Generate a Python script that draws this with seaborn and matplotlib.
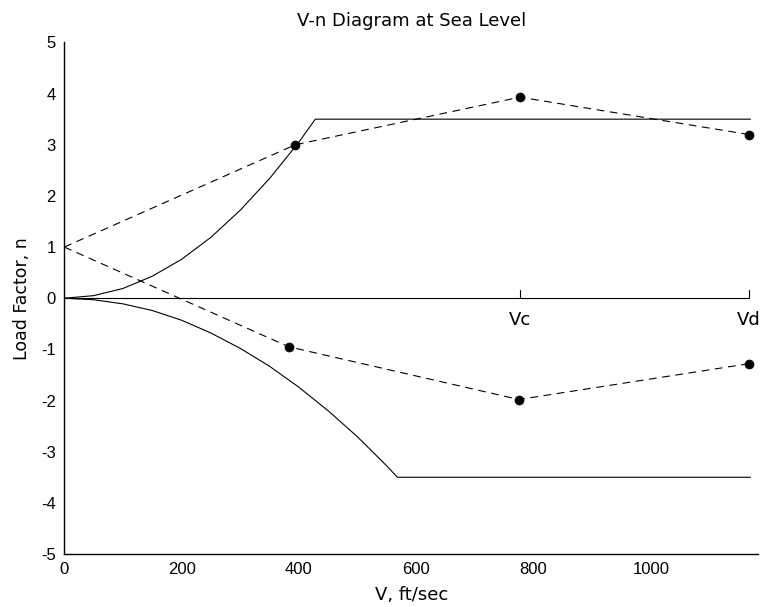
import matplotlib
matplotlib.use("Agg")
import matplotlib.pyplot as plt
import seaborn as sns
import pandas as pd

# Positive stall boundary (n vs V), then flat limit load
v_pos = [0, 50, 100, 150, 200, 250, 300, 350, 400, 428, 1170]
n_pos = [0, 0.05, 0.19, 0.43, 0.76, 1.19, 1.72, 2.34, 3.05, 3.5, 3.5]

# Negative stall boundary, then flat negative limit load
v_neg = [0, 50, 100, 150, 200, 250, 300, 350, 400, 450, 500, 550, 568, 1170]
n_neg = [0, -0.03, -0.11, -0.24, -0.43, -0.68, -0.98, -1.33, -1.74, -2.20,
         -2.71, -3.28, -3.5, -3.5]

# Gust lines
v_gust_up = [0, 394, 777, 1167]
n_gust_up = [1, 3.0, 3.93, 3.2]
v_gust_dn = [0, 383, 775, 1167]
n_gust_dn = [1, -0.95, -1.98, -1.28]

# Design speeds
speed_names = ["Vc", "Vd"]
speed_values = [777, 1167]

sns.set_style("white")
plt.rcParams["font.family"] = ["Liberation Sans", "DejaVu Sans"]
plt.rcParams["axes.unicode_minus"] = False
plt.rcParams["text.color"] = "black"
plt.rcParams["axes.labelcolor"] = "black"
label_font = ["DejaVu Sans"]

fig = plt.figure(figsize=(7.65, 6.07), dpi=100)
ax = fig.add_axes([0.084, 0.0873, 0.907, 0.8428])

lw = 0.8
sns.lineplot(x=v_pos, y=n_pos, sort=False, estimator=None, color="black", lw=lw, ax=ax)
sns.lineplot(x=v_neg, y=n_neg, sort=False, estimator=None, color="black", lw=lw, ax=ax)

# Zero line with small markers at the design speeds
ax.plot([0, speed_values[-1]], [0, 0], color="black", lw=lw)
for name, v in zip(speed_names, speed_values):
    ax.plot([v, v], [0, 0.17], color="black", lw=lw)
    ax.text(v, -0.42, name, ha="center", va="center", fontsize=13,
            family=label_font, color="black")

dash = (0, (7, 5))
sns.lineplot(x=v_gust_up, y=n_gust_up, sort=False, estimator=None, color="black",
             lw=lw, linestyle=dash, ax=ax)
sns.lineplot(x=v_gust_dn, y=n_gust_dn, sort=False, estimator=None, color="black",
             lw=lw, linestyle=dash, ax=ax)

pts = pd.DataFrame({"V": v_gust_up[1:] + v_gust_dn[1:],
                    "n": n_gust_up[1:] + n_gust_dn[1:]})
sns.scatterplot(data=pts, x="V", y="n", s=42, color="black", edgecolor="black",
                linewidth=0.5, ax=ax, zorder=5)

ax.set_xlim(0, 1183)
ax.set_ylim(-5, 5)
ax.set_xticks([0, 200, 400, 600, 800, 1000])
ax.set_yticks(range(-5, 6))
ax.tick_params(direction="in", length=5, width=0.8, labelsize=12, colors="black")
ax.tick_params(axis="x", pad=6)
ax.tick_params(axis="y", pad=6)
for side in ["top", "right"]:
    ax.spines[side].set_visible(False)
for side in ["left", "bottom"]:
    ax.spines[side].set_linewidth(1.0)
    ax.spines[side].set_color("black")

ax.set_title("V-n Diagram at Sea Level", fontsize=13, pad=12, family=label_font,
             color="black")
ax.set_xlabel("V, ft/sec", fontsize=13, labelpad=6, family=label_font)
ax.set_ylabel("Load Factor, n", fontsize=12.5, labelpad=7, family=label_font)

fig.savefig("out.png", dpi=100, facecolor="white")
